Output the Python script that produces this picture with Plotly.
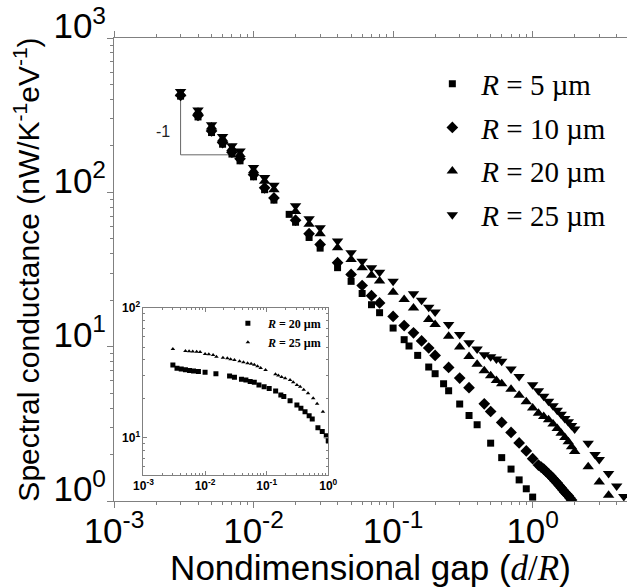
import math
import plotly.graph_objects as go

# ---------------- main data ----------------
x5 = [0.003, 0.004, 0.005, 0.006, 0.007, 0.008, 0.01, 0.012, 0.014, 0.018, 0.02, 0.025, 0.03,
      0.04, 0.05, 0.06, 0.07, 0.08, 0.1, 0.12, 0.13, 0.15, 0.18, 0.2, 0.23, 0.25, 0.3, 0.35,
      0.4, 0.5, 0.6, 0.7, 0.8, 0.9, 1.0]
y5 = [420, 308, 244, 205, 177, 160, 126, 104, 89, 72, 64, 51, 43.5,
      32.5, 26.5, 22.1, 18.7, 16.6, 13.2, 11.1, 10.1, 8.78, 7.38, 6.68, 5.75, 5.18, 4.25, 3.58,
      3.12, 2.37, 1.91, 1.61, 1.37, 1.20, 1.06]

x10 = [0.003, 0.004, 0.005, 0.006, 0.007, 0.008, 0.01, 0.012, 0.014, 0.02, 0.025, 0.03, 0.04,
       0.05, 0.06, 0.07, 0.08, 0.1, 0.12, 0.14, 0.16, 0.18, 0.2, 0.25, 0.3, 0.35, 0.45, 0.5,
       0.6, 0.7, 0.8, 0.9, 1.0, 1.1, 1.15, 1.2, 1.25, 1.3, 1.35, 1.4, 1.45, 1.5, 1.55, 1.6,
       1.65, 1.7, 1.75, 1.8, 1.85, 1.9]
y10 = [425, 315, 250, 210, 182, 165, 130, 107, 92, 66, 54, 46, 35.0,
       29.4, 24.9, 21.4, 19.2, 15.7, 13.7, 12.3, 10.9, 9.8, 8.78, 7.34, 6.26, 5.42, 4.26, 3.80,
       3.23, 2.78, 2.38, 2.11, 1.88, 1.71, 1.66, 1.61, 1.55, 1.50, 1.45, 1.40, 1.35, 1.31, 1.26, 1.22,
       1.18, 1.14, 1.11, 1.08, 1.045, 1.015]

x20 = [0.003, 0.004, 0.005, 0.006, 0.007, 0.008, 0.01, 0.012, 0.014, 0.02, 0.025, 0.03, 0.04,
       0.05, 0.06, 0.07, 0.08, 0.1, 0.12, 0.14, 0.18, 0.2, 0.25, 0.3, 0.35, 0.4, 0.45, 0.5,
       0.55, 0.6, 0.7, 0.8, 0.9, 1.0, 1.1, 1.2, 1.3, 1.4, 1.5, 1.6, 1.7, 1.8, 1.9, 2.0,
       2.5, 3.0, 3.5]
y20 = [435, 330, 265, 222, 192, 176, 138, 118, 104, 75, 62, 54, 43.8,
       36.7, 32.4, 29.0, 26.6, 22.5, 20.2, 17.8, 15.0, 13.9, 11.7, 9.95, 8.65, 7.7, 6.98, 6.48,
       6.04, 5.75, 5.3, 4.85, 4.4, 4.0, 3.71, 3.53, 3.36, 3.15, 2.95, 2.75, 2.58, 2.42, 2.25, 2.09,
       1.67, 1.33, 1.09]

x25 = [0.003, 0.004, 0.005, 0.006, 0.007, 0.008, 0.01, 0.012, 0.014, 0.02, 0.025, 0.03, 0.04,
       0.05, 0.06, 0.07, 0.08, 0.1, 0.14, 0.16, 0.18, 0.2, 0.25, 0.3, 0.35, 0.4, 0.45, 0.5,
       0.55, 0.6, 0.7, 0.8, 1.0, 1.1, 1.2, 1.3, 1.4, 1.5, 1.6, 1.7, 1.8, 1.9, 2.0,
       2.5, 2.8, 3.0, 3.5, 4.0, 4.5]
y25 = [450, 342, 274, 230, 200, 185, 145, 125, 111, 82, 67.5, 59, 48.3,
       40.6, 35.8, 32.4, 30.4, 26.5, 22.0, 20.0, 18.0, 16.8, 13.9, 12.0, 10.6, 9.66, 8.87, 8.6,
       8.32, 8.03, 7.17, 6.41, 5.67, 5.18, 4.77, 4.43, 4.14, 3.87, 3.65, 3.43, 3.26, 3.09, 2.93,
       2.37, 2.0, 1.86, 1.51, 1.25, 1.07]

main_names = ["<i>R</i> = 5 µm", "<i>R</i> = 10 µm", "<i>R</i> = 20 µm", "<i>R</i> = 25 µm"]

# ---------------- inset data ----------------
ins_x20 = [0.003, 0.0035, 0.0041, 0.0048, 0.0056, 0.0065, 0.0078, 0.01, 0.015, 0.025, 0.03,
           0.039, 0.046, 0.054, 0.063, 0.075, 0.091, 0.11, 0.14, 0.17, 0.19, 0.24, 0.31, 0.36,
           0.42, 0.49, 0.55, 0.68, 0.8, 0.93, 1.0]
ins_y20 = [36.4, 34.4, 34.0, 33.5, 33.0, 32.7, 32.4, 32.0, 31.2, 30.0, 29.3,
           28.3, 27.9, 27.2, 26.8, 25.6, 24.8, 24.0, 23.0, 21.4, 20.8, 19.3, 17.9, 16.9,
           15.9, 14.8, 14.0, 12.0, 11.2, 10.4, 9.5]
ins_x25 = [0.003, 0.0048, 0.0055, 0.0063, 0.0073, 0.0083, 0.01, 0.0115, 0.0135, 0.0153, 0.0195,
           0.023, 0.026, 0.03, 0.0363, 0.042, 0.049, 0.056, 0.063, 0.071, 0.08, 0.096, 0.139,
           0.155, 0.175, 0.2, 0.24, 0.27, 0.31, 0.35, 0.4, 0.47, 0.57, 0.66, 0.82]
ins_y25 = [48.4, 46.6, 46.4, 46.2, 46.0, 45.8, 44.3, 44.0, 43.5, 42.2, 41.5,
           41.0, 40.4, 39.8, 39.0, 38.3, 37.6, 37.2, 36.6, 35.6, 34.6, 33.3, 30.9,
           30.3, 29.5, 28.8, 27.9, 26.8, 25.6, 24.8, 23.5, 22.1, 20.2, 18.3, 15.9]
inset_names = ["<b><i>R</i> = 20 µm</b>", "<b><i>R</i> = 25 µm</b>"]

# slope guide (-1)
guide_x = [0.003, 0.003, 0.0067]
guide_y = [414, 175, 175]

decades_main_x = [0.001, 0.01, 0.1, 1]
decades_main_y = [1, 10, 100, 1000]
decades_ins_x = [0.001, 0.01, 0.1, 1]
decades_ins_y = [10, 100]


def minor_list(lo, hi):
    out = []
    d = lo
    while d < hi * 0.999:
        for k in range(2, 10):
            out.append(k * d)
        d *= 10
    return out


def pow_label(v):
    return "10<sup>%d</sup>" % round(math.log10(v))


fig = go.Figure()

fig.add_trace(go.Scatter(x=guide_x, y=guide_y, mode="lines",
                         line=dict(color="#666666", width=1), showlegend=False, hoverinfo="skip"))

symbols = ["square", "diamond", "triangle-up", "triangle-down"]
sizes = [7, 9, 10, 10]
for xs, ys, nm, sy, sz in zip([x5, x10, x20, x25], [y5, y10, y20, y25], main_names, symbols, sizes):
    fig.add_trace(go.Scatter(x=xs, y=ys, mode="markers", name=nm, legendgroup=nm,
                             marker=dict(symbol=sy, size=sz, color="black"), legend="legend"))

fig.add_trace(go.Scatter(x=ins_x20, y=ins_y20, mode="markers", name=inset_names[0],
                         marker=dict(symbol="square", size=5, color="black"),
                         xaxis="x2", yaxis="y2", legend="legend2"))
fig.add_trace(go.Scatter(x=ins_x25, y=ins_y25, mode="markers", name=inset_names[1],
                         marker=dict(symbol="triangle-up", size=4, color="black"),
                         xaxis="x2", yaxis="y2", legend="legend2"))

axis_color = "#808080"
tickfont_main = dict(family="Arial, Liberation Sans", size=35, color="black")
inset_tickfont = dict(family="Arial, Liberation Sans", size=12, color="black", weight="bold")

fig.update_layout(
    width=636, height=588,
    margin=dict(l=114, r=0, t=38, b=87),
    paper_bgcolor="white", plot_bgcolor="white",
    xaxis=dict(type="log", range=[-3, 0.676], domain=[0, 1], showline=True, linecolor=axis_color,
               linewidth=1, mirror="ticks", ticks="outside", ticklen=6, tickcolor=axis_color,
               tickvals=decades_main_x, ticktext=[pow_label(v) for v in decades_main_x],
               tickfont=tickfont_main, showgrid=False, zeroline=False, ticklabelstandoff=-7,
               minor=dict(ticks="outside", ticklen=3, tickcolor=axis_color,
                          tickvals=minor_list(0.001, 10), showgrid=False),
               title=dict(text="Nondimensional gap (<span style='font-family:Liberation Serif'><i>d</i>/<i>R</i></span>)",
                          font=dict(family="Arial, Liberation Sans", size=35, color="black"),
                          standoff=9)),
    yaxis=dict(type="log", range=[0, 3], domain=[0, 1], showline=True, linecolor=axis_color,
               linewidth=1, mirror=False, ticks="outside", ticklen=6, tickcolor=axis_color,
               tickvals=decades_main_y, ticktext=[pow_label(v) for v in decades_main_y],
               tickfont=tickfont_main, showgrid=False, zeroline=False,
               ticklabelstandoff=-6, ticklabelshift=-12,
               minor=dict(ticks="outside", ticklen=3, tickcolor=axis_color,
                          tickvals=minor_list(1, 1000), showgrid=False),
               title=dict(text="Spectral conductance (nW/K<sup>-1</sup>eV<sup>-1</sup>)",
                          font=dict(family="Arial, Liberation Sans", size=30, color="black"),
                          standoff=4)),
    xaxis2=dict(type="log", range=[-3, 0], domain=[0.0575, 0.4176], anchor="y2",
                showline=True, linecolor=axis_color, linewidth=1, mirror="allticks",
                ticks="inside", ticklen=4, tickcolor=axis_color,
                tickvals=decades_ins_x, ticktext=[pow_label(v) for v in decades_ins_x],
                tickfont=inset_tickfont, showgrid=False, zeroline=False,
                minor=dict(ticks="inside", ticklen=2, tickcolor=axis_color,
                           tickvals=minor_list(0.001, 1), showgrid=False)),
    yaxis2=dict(type="log", range=[0.715, 2], domain=[0.0562, 0.4168], anchor="x2",
                showline=True, linecolor=axis_color, linewidth=1, mirror="allticks",
                ticks="inside", ticklen=4, tickcolor=axis_color,
                tickvals=decades_ins_y, ticktext=[pow_label(v) for v in decades_ins_y],
                tickfont=inset_tickfont, showgrid=False, zeroline=False,
                minor=dict(ticks="inside", ticklen=2, tickcolor=axis_color,
                           tickvals=minor_list(1, 100), showgrid=False)),
    legend=dict(x=0.603, y=0.956, xanchor="left", yanchor="top", bgcolor="rgba(0,0,0,0)",
                font=dict(family="Liberation Serif, Times New Roman", size=29, color="black"),
                tracegroupgap=3, itemwidth=48),
    legend2=dict(x=0.222, y=0.415, xanchor="left", yanchor="top", bgcolor="rgba(0,0,0,0)",
                 font=dict(family="Liberation Serif, Times New Roman", size=12, color="black"),
                 tracegroupgap=0, itemwidth=30),
    annotations=[dict(x=-2.648, y=2.396, xref="x", yref="y", text="-1", showarrow=False,
                      font=dict(family="Arial, Liberation Sans", size=16, color="#222222"))],
    showlegend=True,
)

fig.write_html("out.html")
